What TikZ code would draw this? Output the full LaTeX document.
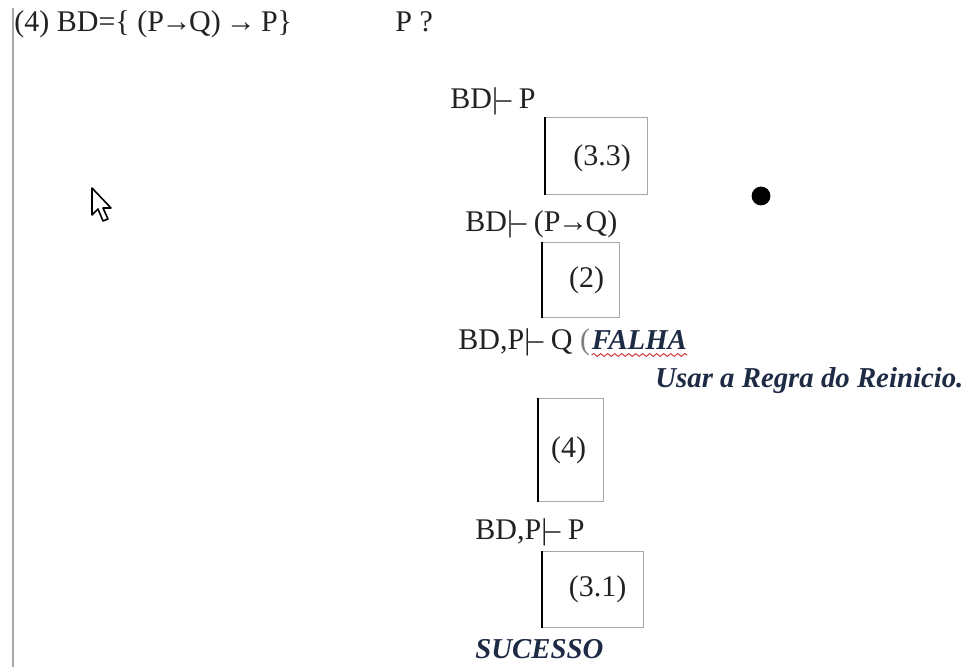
\documentclass[tikz,border=0pt]{standalone}
\usepackage{fontspec}
\setmainfont{Liberation Serif}
\usetikzlibrary{decorations.pathmorphing}
\definecolor{Ink}{HTML}{222222}
\definecolor{Navy}{HTML}{1E2B45}
\definecolor{Frame}{HTML}{A8A8A8}
\definecolor{Squiggle}{HTML}{D03A3A}
\newcommand{\turnst}{|\kern-0.06em--}
\newcommand{\imp}{\kern-0.08em→\kern-0.08em}

\begin{document}
\begin{tikzpicture}[x=0.5pt, y=-0.5pt,
    txt/.style={anchor=base west, inner sep=0pt, text=Ink, font=\fontsize{15}{18}\selectfont},
    verdict/.style={anchor=base west, inner sep=0pt, text=Navy, font=\fontsize{14.4}{17}\selectfont\bfseries\itshape},
    rulebox/.style={draw=Frame, line width=0.5pt, inner sep=0pt},
    rulelbl/.style={inner sep=0pt, text=Ink, font=\fontsize{15}{18}\selectfont},
    spine/.style={draw=black, line width=1pt}
  ]
    \useasboundingbox (0,0) rectangle (968,667);
    \draw[Frame, line width=0.6pt] (13,8) -- (13,667);

    % query
    \node[txt] (bd) at (14,32) {(4) BD=\{ (P\imp Q) \imp\ P\}};
    \node[txt] (goal) at (395,32) {P ?};

    % derivation
    \node[txt] (s1) at (450,109) {BD\turnst\ P};
    \node[rulebox, minimum width=51pt, minimum height=38.5pt] (b1) at (596,156.5) {};
    \node[rulelbl] (l1) at ([xshift=3pt,yshift=-1pt]b1.center) {(3.3)};
    \draw[spine] (b1.north west) -- (b1.south west);

    \node[txt] (s2) at (465,232) {BD\turnst\ (P\imp Q)};
    \node[rulebox, minimum width=38.5pt, minimum height=37.5pt] (b2) at (580.5,280.5) {};
    \node[rulelbl] (l2) at ([xshift=3pt]b2.center) {(2)};
    \draw[spine] (b2.north west) -- (b2.south west);

    \node[txt] (s3) at (458,350) {BD,P\turnst\ Q {\color{gray}(}};
    \node[verdict, anchor=base west] (fail) at ([xshift=0.5pt]s3.base east) {FALHA};
    \draw[Squiggle, line width=0.5pt, decorate,
      decoration={snake, amplitude=0.7pt, segment length=3.5pt}]
      ([yshift=-2.5pt]fail.base west) -- ([yshift=-2.5pt]fail.base east);
    \node[verdict] (restart) at (655,388) {Usar a Regra do Reinicio.};

    \node[rulebox, minimum width=32.5pt, minimum height=51pt] (b3) at (570.5,450) {};
    \node[rulelbl] (l3) at ([xshift=-1pt]b3.center) {(4)};
    \draw[spine] (b3.north west) -- (b3.south west);

    \node[txt] (s4) at (475,539) {BD,P\turnst\ P};
    \node[rulebox, minimum width=50.5pt, minimum height=38pt] (b4) at (592.5,589) {};
    \node[rulelbl] (l4) at ([xshift=2.5pt]b4.center) {(3.1)};
    \draw[spine] (b4.north west) -- (b4.south west);

    \node[verdict] (ok) at (475,658) {SUCESSO};

    % pointer and dot
    \draw[black, fill=white, line width=0.8pt, line join=round]
      (92,188) -- (92,215) -- (98,209) -- (103,221) -- (108,219) -- (103,208) -- (111,208) -- cycle;
    \fill[black] (761,196) circle (4.7pt);
\end{tikzpicture}
\end{document}
